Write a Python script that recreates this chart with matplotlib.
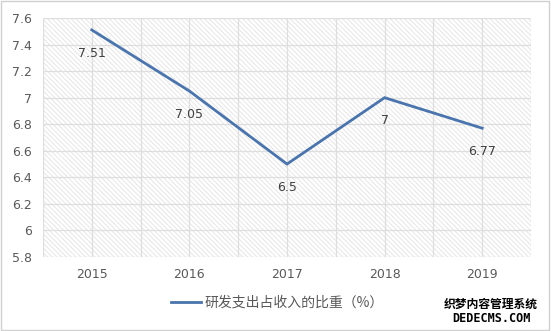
import matplotlib
matplotlib.use("Agg")
import matplotlib.pyplot as plt
from matplotlib.patches import Rectangle

years = ["2015", "2016", "2017", "2018", "2019"]
values = [7.51, 7.05, 6.5, 7.0, 6.77]
value_labels = ["7.51", "7.05", "6.5", "7", "6.77"]
y_ticks = [5.8, 6, 6.2, 6.4, 6.6, 6.8, 7, 7.2, 7.4, 7.6]
y_tick_labels = ["5.8", "6", "6.2", "6.4", "6.6", "6.8", "7", "7.2", "7.4", "7.6"]
series_name = "研发支出占收入的比重（%）"

plt.rcParams['font.family'] = ['Noto Sans CJK SC', 'DejaVu Sans']
plt.rcParams['hatch.color'] = '#e6e6e6'
plt.rcParams['hatch.linewidth'] = 0.7

fig = plt.figure(figsize=(5.51, 3.31), dpi=100)
fig.patch.set_facecolor('white')
fig.add_artist(Rectangle((0.002, 0.003), 0.995, 0.994, transform=fig.transFigure,
                         fill=False, edgecolor='#d0d0d0', linewidth=1))

ax = fig.add_axes([43/551, 1 - 257/331, (531-43)/551, (257-18)/331])
x = list(range(len(years)))
ax.set_xlim(-0.5, len(years) - 0.5)
ax.set_ylim(5.8, 7.6)

ax.add_patch(Rectangle((0, 0), 1, 1, transform=ax.transAxes, facecolor='white',
                       hatch='\\' * 7, edgecolor='#e6e6e6', linewidth=0, zorder=0))

for yt in y_ticks:
    ax.axhline(yt, color='#dedede', linewidth=0.9, zorder=1)
for i in range(len(years) * 2 + 1):
    ax.axvline(-0.5 + i * 0.5, color='#dedede', linewidth=0.9, zorder=1)

ax.plot(x, values, color='#4a74ad', linewidth=2.0, zorder=3, label=series_name,
        solid_joinstyle='miter')

for xi, v, lab in zip(x, values, value_labels):
    ax.annotate(lab, (xi, v), xytext=(0, -12), textcoords='offset points',
                ha='center', va='top', fontsize=9, color='#404040',
                family=['DejaVu Sans'])

ax.set_xticks(x)
ax.set_xticklabels(years, fontsize=9, color='#595959', family=['DejaVu Sans'])
ax.set_yticks(y_ticks)
ax.set_yticklabels(y_tick_labels, fontsize=9, color='#595959', family=['DejaVu Sans'])
ax.tick_params(length=0, pad=8)
for s in ax.spines.values():
    s.set_visible(False)

leg = fig.legend(loc='center', bbox_to_anchor=(277/551, 1 - 303/331), frameon=False,
                 fontsize=10, handlelength=2.2, handletextpad=0.2)
for t in leg.get_texts():
    t.set_color('#595959')

fig.text(491/551, 1 - 304/331, "织梦内容管理系统", ha='center', va='center', fontsize=8.5,
         fontweight='bold', color='black')
fig.text(491/551, 1 - 318/331, "DEDECMS.COM", ha='center', va='center', fontsize=8.5,
         fontweight='bold', color='black', family=['DejaVu Sans Mono'])

fig.savefig("out.png", dpi=100)
